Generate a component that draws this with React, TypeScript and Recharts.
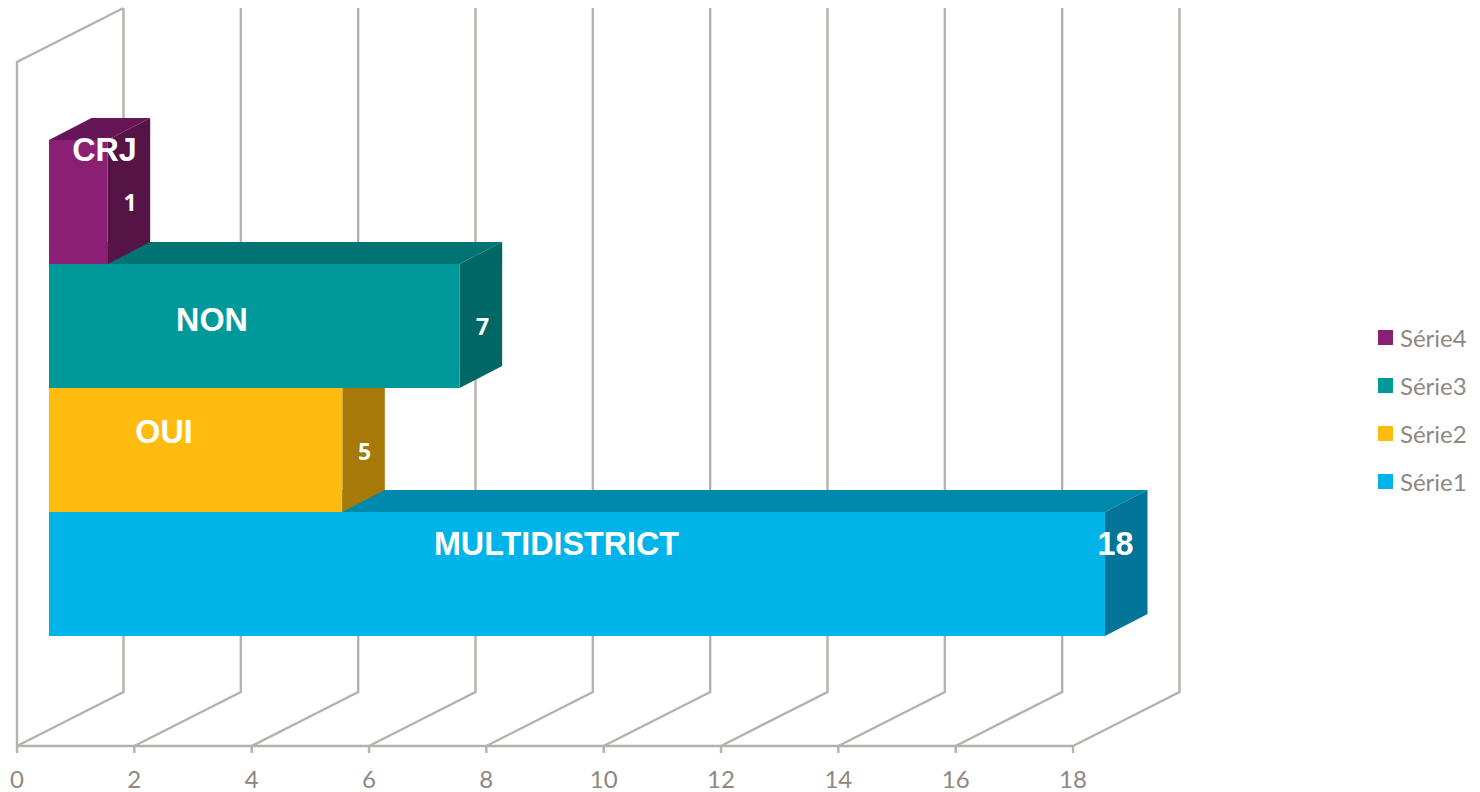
import { Bar, BarChart, CartesianGrid, Legend, XAxis, YAxis } from "recharts";

const CATEGORIES = ["MULTIDISTRICT", "OUI", "NON", "CRJ"];
const SERIES = ["Série1", "Série2", "Série3", "Série4"];
const VALUES = [18, 5, 7, 1];
const X_TICKS = [0, 2, 4, 6, 8, 10, 12, 14, 16, 18];

const rows = CATEGORIES.map((name, i) => ({ name, [SERIES[i]]: VALUES[i] }));

// front, top, side
const FACES: Record<string, string[]> = {
  "Série1": ["#00b4e9", "#0089ad", "#007598"],
  "Série2": ["#ffbb0e", "#b8860b", "#a67a08"],
  "Série3": ["#009999", "#007372", "#006666"],
  "Série4": ["#8a1f74", "#661556", "#561446"],
};

// hand placed like the original
const NAME_POS: Record<string, number[]> = {
  MULTIDISTRICT: [556.5, 544],
  OUI: [164, 432],
  NON: [212, 320],
  CRJ: [104.5, 150],
};
const VALUE_POS: Record<string, number[]> = {
  MULTIDISTRICT: [1115.5, 544],
  OUI: [364.5, 451],
  NON: [482.5, 326],
  CRJ: [130, 202],
};

const FRONT_DX = 32;
const FRONT_DY = -16;
const DEPTH_X = 42.5;
const DEPTH_Y = 22;
const WALL_X = 106.5;
const WALL_Y = 54;
const GRID = "#b5b1ac";
const TEXT = "#8f8780";

function Box3D(props: any) {
  const { x, y, width, height, series, payload } = props;
  if (!width) return null;
  const l = x + FRONT_DX;
  const t = y + FRONT_DY;
  const r = l + width;
  const b = t + height;
  const [front, top, side] = FACES[series];
  const name = payload.name;
  const [nx, ny] = NAME_POS[name];
  const [vx, vy] = VALUE_POS[name];
  const big = name === "MULTIDISTRICT";
  return (
    <g>
      <polygon points={`${l},${t} ${l + DEPTH_X},${t - DEPTH_Y} ${r + DEPTH_X},${t - DEPTH_Y} ${r},${t}`} fill={top} />
      <polygon points={`${r},${t} ${r + DEPTH_X},${t - DEPTH_Y} ${r + DEPTH_X},${b - DEPTH_Y} ${r},${b}`} fill={side} />
      <rect x={l} y={t} width={width} height={height} fill={front} />
      <text
        x={nx}
        y={ny}
        textAnchor="middle"
        dominantBaseline="central"
        fill="#fff"
        fontFamily="Liberation Sans"
        fontWeight="bold"
        fontSize={32.3}
      >
        {name}
      </text>
      <text
        x={vx}
        y={vy}
        textAnchor="middle"
        dominantBaseline="central"
        fill="#fff"
        fontFamily={big ? "Liberation Sans" : "Open Sans"}
        fontWeight="bold"
        fontSize={big ? 32.3 : 23}
      >
        {payload[series]}
      </text>
    </g>
  );
}

function WallLine(props: any) {
  const { x1, y1, y2, index } = props;
  const bottom = Math.max(y1, y2);
  const top = Math.min(y1, y2);
  return (
    <g fill="none" stroke={GRID} strokeWidth={2.4}>
      <polyline points={`${x1},${bottom} ${x1 + WALL_X},${bottom - WALL_Y} ${x1 + WALL_X},${top - WALL_Y}`} />
      {index === 0 && <polyline points={`${x1},${bottom} ${x1},${top} ${x1 + WALL_X},${top - WALL_Y}`} />}
    </g>
  );
}

function SeriesLegend({ payload }: any) {
  const items = [...(payload ?? [])].reverse();
  return (
    <div style={{ fontFamily: "Lato", fontSize: 24, color: TEXT }}>
      {items.map((it: any) => (
        <div key={it.value} style={{ display: "flex", alignItems: "center", height: 48 }}>
          <span style={{ width: 15, height: 15, background: it.color, marginRight: 7 }} />
          {it.value}
        </div>
      ))}
    </div>
  );
}

export default function App() {
  return (
    <div style={{ position: "absolute", left: 0, top: 0, background: "#fff" }}>
      <BarChart
        width={1480}
        height={792}
        data={rows}
        layout="vertical"
        margin={{ top: 62, right: 305, bottom: 0, left: 17 }}
        barCategoryGap={0}
      >
        <CartesianGrid horizontal={false} vertical={(p: any) => <WallLine key={p.index} {...p} />} />
        <XAxis
          type="number"
          domain={[0, 18]}
          ticks={X_TICKS}
          interval={0}
          height={46}
          stroke={GRID}
          strokeWidth={2.4}
          tickSize={7}
          tickMargin={18}
          tick={{ fill: TEXT, fontFamily: "Lato", fontSize: 24 }}
        />
        <YAxis type="category" dataKey="name" reversed hide padding={{ top: 94, bottom: 94 }} />
        {SERIES.map((s) => (
          <Bar
            key={s}
            dataKey={s}
            name={s}
            stackId="a"
            fill={FACES[s][0]}
            isAnimationActive={false}
            shape={(p: any) => <Box3D {...p} series={s} />}
          />
        ))}
        <Legend
          layout="vertical"
          align="right"
          verticalAlign="middle"
          width={102}
          content={<SeriesLegend />}
          wrapperStyle={{ left: 1378, top: 313, right: "auto" }}
        />
      </BarChart>
    </div>
  );
}
